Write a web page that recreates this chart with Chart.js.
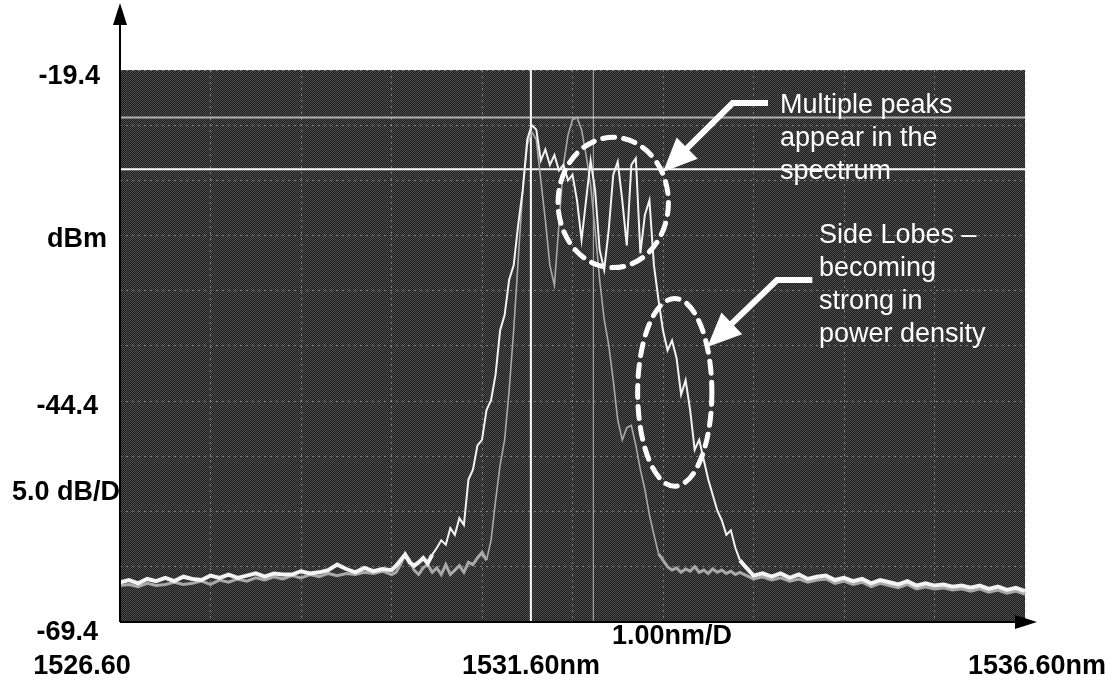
<!DOCTYPE html>
<html>
<head>
<meta charset="utf-8">
<script src="https://cdn.jsdelivr.net/npm/chart.js@4.4.1/dist/chart.umd.min.js"></script>
<style>
html,body{margin:0;padding:0;background:#ffffff;}
#wrap{width:1111px;height:700px;position:relative;}
canvas{display:block;}
</style>
</head>
<body>
<div id="wrap"><canvas id="c" width="1111" height="700"></canvas></div>
<script>
// ---- tick / grid values ----
const xTickNm = [1526.6,1527.6,1528.6,1529.6,1530.6,1531.6,1532.6,1533.6,1534.6,1535.6,1536.6];
const yTickDbm = [-69.4,-64.4,-59.4,-54.4,-49.4,-44.4,-39.4,-34.4,-29.4,-24.4,-19.4];

// ---- wavelength samples (nm) ----
const wavelengthNm = [
 1526.6,1526.7,1526.8,1526.9,1527.0,1527.1,1527.2,1527.3,1527.4,1527.5,
 1527.6,1527.7,1527.8,1527.9,1528.0,1528.1,1528.2,1528.3,1528.4,1528.5,
 1528.6,1528.7,1528.8,1528.9,1529.0,1529.1,1529.2,1529.3,1529.4,1529.5,
 1529.60,1529.65,1529.70,1529.75,1529.80,1529.85,1529.90,1529.95,1530.00,1530.05,
 1530.10,1530.15,1530.20,1530.25,1530.30,1530.35,1530.40,1530.45,1530.50,1530.55,
 1530.60,1530.65,1530.70,1530.75,1530.80,1530.85,1530.90,1530.95,1531.00,1531.05,
 1531.10,1531.15,1531.20,1531.25,1531.30,1531.35,1531.40,1531.45,1531.50,1531.55,
 1531.60,1531.65,1531.70,1531.75,1531.80,1531.85,1531.90,1531.95,1532.00,1532.05,
 1532.10,1532.15,1532.20,1532.25,1532.30,1532.35,1532.40,1532.45,1532.50,1532.55,
 1532.60,1532.65,1532.70,1532.75,1532.80,1532.85,1532.90,1532.95,1533.00,1533.05,
 1533.10,1533.15,1533.20,1533.25,1533.30,1533.35,1533.40,1533.45,1533.50,
 1533.6,1533.7,1533.8,1533.9,1534.0,1534.1,1534.2,1534.3,1534.4,1534.5,
 1534.6,1534.7,1534.8,1534.9,1535.0,1535.1,1535.2,1535.3,1535.4,1535.5,
 1535.6,1535.7,1535.8,1535.9,1536.0,1536.1,1536.2,1536.3,1536.4,1536.5,1536.6
];

// ---- white trace (strong side lobes), dBm ----
const whiteTraceDbm = [
 -65.8,-65.6,-65.9,-65.5,-65.7,-65.4,-65.7,-65.3,-65.5,-65.6,
 -65.2,-65.4,-65.1,-65.4,-65.2,-65.0,-65.3,-65.0,-65.1,-65.1,
 -64.8,-65.0,-64.9,-64.7,-64.2,-64.6,-64.9,-64.5,-64.8,-64.6,
 -64.7,-64.3,-63.8,-63.3,-64.0,-64.3,-64.0,-63.6,-64.1,-63.3,
 -62.7,-62.0,-62.4,-60.9,-61.5,-60.0,-60.6,-56.5,-55.6,-53.4,
 -52.9,-50.2,-49.3,-47.0,-43.0,-41.6,-38.4,-37.1,-33.4,-30.3,
 -25.7,-24.4,-24.8,-27.6,-26.6,-28.0,-27.1,-28.5,-28.0,-29.4,
 -28.9,-31.2,-34.8,-31.2,-27.6,-30.3,-35.7,-37.5,-33.9,-28.9,
 -27.7,-31.2,-35.3,-28.0,-27.4,-36.0,-32.5,-31.2,-37.1,-40.2,
 -43.0,-44.8,-43.9,-45.5,-48.8,-47.5,-50.2,-53.8,-52.9,-54.7,
 -56.5,-57.9,-59.3,-60.2,-61.5,-61.1,-62.7,-63.8,-64.3,
 -65.2,-65.0,-65.3,-65.0,-65.4,-65.1,-65.5,-65.3,-65.2,-65.6,
 -65.4,-65.7,-65.5,-65.9,-65.6,-65.8,-66.0,-65.7,-66.1,-65.9,
 -66.1,-66.0,-66.2,-66.1,-66.3,-66.1,-66.4,-66.2,-66.5,-66.3,-66.6
];

// ---- gray trace (narrower spectrum), dBm ----
const grayTraceDbm = [
 -66.1,-66.0,-66.2,-65.9,-66.1,-66.0,-65.8,-66.0,-65.9,-65.7,
 -66.0,-65.6,-65.8,-65.5,-65.7,-65.4,-65.6,-65.3,-65.5,-65.2,
 -65.4,-65.1,-65.3,-65.0,-65.2,-65.0,-65.1,-64.9,-65.0,-64.8,
 -65.1,-64.9,-64.2,-63.2,-63.8,-64.7,-65.1,-64.5,-64.2,-64.9,
 -64.5,-65.1,-64.2,-65.1,-64.7,-64.3,-64.9,-64.0,-64.2,-63.6,
 -63.1,-63.8,-62.0,-58.4,-55.2,-52.9,-48.4,-43.0,-36.6,-30.3,
 -26.2,-25.0,-25.7,-29.4,-33.0,-37.1,-38.9,-33.4,-28.0,-25.3,
 -23.9,-23.7,-24.8,-27.1,-29.8,-33.9,-38.4,-42.0,-44.3,-47.5,
 -51.1,-52.9,-51.8,-51.6,-53.4,-55.6,-57.4,-59.7,-61.5,-63.2,
 -63.8,-64.4,-64.7,-64.5,-64.9,-64.6,-64.8,-64.4,-64.9,-64.7,
 -65.0,-64.6,-64.9,-64.7,-65.0,-64.8,-65.1,-64.9,-65.1,
 -65.5,-65.3,-65.6,-65.4,-65.7,-65.5,-65.8,-65.6,-65.5,-65.9,
 -65.7,-66.0,-65.8,-66.2,-65.9,-66.1,-66.3,-66.0,-66.4,-66.2,
 -66.4,-66.3,-66.5,-66.4,-66.6,-66.4,-66.7,-66.5,-66.8,-66.6,-66.9
];

// ---- instrument markers ----
const markerWavelengthNm = [1531.14, 1531.83];
const markerLevelDbm = [-28.4, -23.7];

// ---- text ----
const yAxisTexts = ['-19.4', 'dBm', '-44.4', '5.0 dB/D', '-69.4'];
const xAxisTexts = ['1526.60', '1531.60nm', '1536.60nm'];
const xDivText = '1.00nm/D';
const note1Lines = ['Multiple peaks', 'appear in the', 'spectrum'];
const note2Lines = ['Side Lobes \u2013', 'becoming', 'strong in', 'power density'];

const X_MIN = xTickNm[0], X_MAX = xTickNm[xTickNm.length - 1];
const Y_MIN = yTickDbm[0], Y_MAX = yTickDbm[yTickDbm.length - 1];

const toPoints = (ys) => wavelengthNm.map((x, i) => ({x: x, y: ys[i]}));

// background dither pattern
function makePattern(ctx) {
  const p = document.createElement('canvas');
  p.width = 2; p.height = 2;
  const pc = p.getContext('2d');
  pc.fillStyle = '#1e1e1e'; pc.fillRect(0, 0, 2, 2);
  pc.fillStyle = '#4d4d4d'; pc.fillRect(0, 0, 1, 1); pc.fillRect(1, 1, 1, 1);
  return ctx.createPattern(p, 'repeat');
}

const bgPlugin = {
  id: 'bg',
  beforeDraw(chart) {
    const {ctx, chartArea: a} = chart;
    ctx.save();
    ctx.fillStyle = makePattern(ctx);
    ctx.fillRect(a.left, a.top, a.right - a.left, a.bottom - a.top);
    ctx.restore();
  }
};

function arrowHead(ctx, x0, y0, x1, y1, len, half) {
  const ang = Math.atan2(y1 - y0, x1 - x0);
  const bx = x1 - len * Math.cos(ang), by = y1 - len * Math.sin(ang);
  const nx = -Math.sin(ang), ny = Math.cos(ang);
  ctx.beginPath();
  ctx.moveTo(x1, y1);
  ctx.lineTo(bx + nx * half, by + ny * half);
  ctx.lineTo(bx - nx * half, by - ny * half);
  ctx.closePath();
  ctx.fill();
}

const annotPlugin = {
  id: 'annot',
  afterDraw(chart) {
    const {ctx, chartArea: a, scales: {x, y}} = chart;
    ctx.save();
    // dashed ellipses (data coordinates)
    const ellipses = [
      {cx: 1532.05, cy: -31.4, hw: 0.61, hh: 5.9},
      {cx: 1532.73, cy: -48.6, hw: 0.41, hh: 8.5}
    ];
    ctx.strokeStyle = '#ffffff';
    ctx.lineWidth = 5;
    ctx.setLineDash([12, 9]);
    ctx.lineCap = 'round';
    ellipses.forEach(e => {
      const px = x.getPixelForValue(e.cx), py = y.getPixelForValue(e.cy);
      const rx = Math.abs(x.getPixelForValue(e.cx + e.hw) - px);
      const ry = Math.abs(y.getPixelForValue(e.cy + e.hh) - py);
      ctx.beginPath();
      ctx.ellipse(px, py, rx, ry, 0, 0, Math.PI * 2);
      ctx.stroke();
    });
    ctx.setLineDash([]);
    ctx.lineCap = 'butt';
    // arrows (data coordinates: tail, elbow, tip)
    const arrows = [
      [[1533.76, -22.39], [1533.37, -22.39], [1532.60, -28.64]],
      [[1534.25, -38.42], [1533.86, -38.42], [1533.09, -44.49]]
    ];
    ctx.fillStyle = '#ffffff';
    ctx.lineWidth = 6;
    ctx.lineJoin = 'miter';
    arrows.forEach(ar => {
      const p = ar.map(q => [x.getPixelForValue(q[0]), y.getPixelForValue(q[1])]);
      const ang = Math.atan2(p[2][1] - p[1][1], p[2][0] - p[1][0]);
      const endX = p[2][0] - 28 * Math.cos(ang), endY = p[2][1] - 28 * Math.sin(ang);
      ctx.beginPath();
      ctx.moveTo(p[0][0], p[0][1]);
      ctx.lineTo(p[1][0], p[1][1]);
      ctx.lineTo(endX, endY);
      ctx.stroke();
      arrowHead(ctx, p[1][0], p[1][1], p[2][0], p[2][1], 34, 15);
    });
    // annotation texts
    ctx.font = '27px "Liberation Sans", Arial, sans-serif';
    ctx.textAlign = 'left';
    ctx.textBaseline = 'alphabetic';
    ctx.fillStyle = '#ffffff';
    note1Lines.forEach((t, i) => ctx.fillText(t, 780, 113 + i * 33));
    note2Lines.forEach((t, i) => ctx.fillText(t, 819, 243 + i * 33));

    // axis arrows
    ctx.strokeStyle = '#000000';
    ctx.fillStyle = '#000000';
    ctx.lineWidth = 2;
    ctx.beginPath();
    ctx.moveTo(a.left, a.bottom);
    ctx.lineTo(a.left, 22);
    ctx.stroke();
    arrowHead(ctx, a.left, a.bottom, a.left, 3, 22, 7);
    ctx.beginPath();
    ctx.moveTo(a.left, a.bottom);
    ctx.lineTo(1016, a.bottom);
    ctx.stroke();
    arrowHead(ctx, a.left, a.bottom, 1037, a.bottom, 22, 7);

    // axis labels
    ctx.font = 'bold 27px "Liberation Sans", Arial, sans-serif';
    ctx.textBaseline = 'middle';
    ctx.textAlign = 'right';
    const yPos = [[100, 77], [107, 240], [98, 407], [120, 493], [98, 633]];
    yAxisTexts.forEach((t, i) => ctx.fillText(t, yPos[i][0], yPos[i][1]));
    ctx.textAlign = 'center';
    ctx.fillText(xAxisTexts[0], 82, 667);
    ctx.fillText(xAxisTexts[1], 531, 667);
    ctx.textAlign = 'right';
    ctx.fillText(xAxisTexts[2], 1106, 667);
    ctx.textAlign = 'center';
    ctx.fillText(xDivText, 672, 637);
    ctx.restore();
  }
};

const floorW = (thin, thick) => (c) =>
  (c.p0.parsed.y < -63.0 && c.p1.parsed.y < -63.0) ? thick : thin;

const markerSets = [
  {data: [{x: markerWavelengthNm[0], y: Y_MIN}, {x: markerWavelengthNm[0], y: Y_MAX}], borderColor: '#ffffff', borderWidth: 2},
  {data: [{x: markerWavelengthNm[1], y: Y_MIN}, {x: markerWavelengthNm[1], y: Y_MAX}], borderColor: 'rgba(215,215,215,0.8)', borderWidth: 1},
  {data: [{x: X_MIN, y: markerLevelDbm[0]}, {x: X_MAX, y: markerLevelDbm[0]}], borderColor: '#ffffff', borderWidth: 2},
  {data: [{x: X_MIN, y: markerLevelDbm[1]}, {x: X_MAX, y: markerLevelDbm[1]}], borderColor: 'rgba(200,200,200,0.85)', borderWidth: 2}
].map(d => Object.assign({pointRadius: 0, fill: false, tension: 0}, d));

new Chart(document.getElementById('c'), {
  type: 'line',
  data: {
    datasets: [
      {
        label: 'spectrum A',
        data: toPoints(whiteTraceDbm),
        borderColor: '#f4f4f4',
        borderWidth: 2,
        pointRadius: 0,
        tension: 0,
        segment: {borderWidth: floorW(2, 4)}
      },
      {
        label: 'spectrum B',
        data: toPoints(grayTraceDbm),
        borderColor: '#a9a9a9',
        borderWidth: 1.6,
        pointRadius: 0,
        tension: 0,
        segment: {borderWidth: floorW(1.6, 3)}
      }
    ].concat(markerSets)
  },
  options: {
    responsive: false,
    animation: false,
    devicePixelRatio: 1,
    layout: {padding: {left: 120, right: 86, top: 70, bottom: 78}},
    plugins: {legend: {display: false}, tooltip: {enabled: false}},
    scales: {
      x: {
        type: 'linear', min: X_MIN, max: X_MAX,
        afterBuildTicks: (s) => { s.ticks = xTickNm.map(v => ({value: v})); },
        ticks: {display: false},
        grid: {color: 'rgba(200,200,200,0.5)', lineWidth: 1, drawTicks: false, tickLength: 0},
        border: {display: false, dash: [2, 4]}
      },
      y: {
        type: 'linear', min: Y_MIN, max: Y_MAX,
        afterBuildTicks: (s) => { s.ticks = yTickDbm.map(v => ({value: v})); },
        ticks: {display: false},
        grid: {color: 'rgba(200,200,200,0.5)', lineWidth: 1, drawTicks: false, tickLength: 0},
        border: {display: false, dash: [2, 4]}
      }
    }
  },
  plugins: [bgPlugin, annotPlugin]
});
</script>
</body>
</html>
